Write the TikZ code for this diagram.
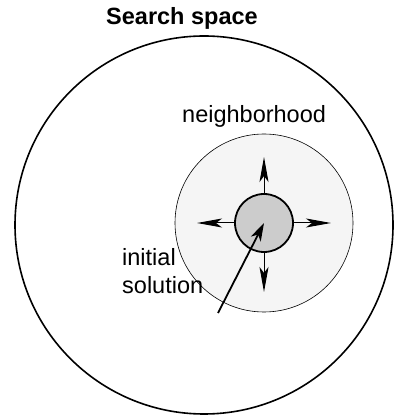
\documentclass[tikz,border=0pt]{standalone}
\usepackage{fontspec}
\setmainfont{Liberation Sans}
\usetikzlibrary{arrows.meta}
\begin{document}
\begin{tikzpicture}[x=1pt,y=1pt, every node/.style={font=\fontsize{23.5}{28.2}\selectfont},
  zone/.style={circle,draw,inner sep=0pt},
  move/.style={-{Stealth[length=25pt,width=9pt,inset=6pt]},line width=1pt}]
\useasboundingbox (0,0) rectangle (394,417);
\node[zone,line width=1.6pt,minimum size=378pt] (space) at (204,192) {};
\node[zone,line width=0.6pt,fill=black!4,minimum size=178pt] (hood) at (264,194) {};
\node[zone,line width=1.8pt,fill=black!20,minimum size=58pt] (init) at (264,194) {};
\node[font=\fontsize{23.5}{28.2}\selectfont\bfseries,anchor=base] (title) at (182,392) {Search space};
\node[anchor=base west,inner sep=0pt] (hoodlabel) at (182,294) {neighborhood};
\node[anchor=base west,inner sep=0pt,align=left] (initlabel) at (122,123) {initial\\solution};
\coordinate (up) at (264,260);
\coordinate (down) at (264,125);
\coordinate (left) at (197,194);
\coordinate (right) at (331,194);
\coordinate (tail) at (218,104);
\draw[move] (init.north) -- (up);
\draw[move] (init.south) -- (down);
\draw[move] (init.west) -- (left);
\draw[move] (init.east) -- (right);
\draw[-{Stealth[length=18pt,width=11pt,inset=5pt]},line width=1.8pt] (tail) -- (init.center);
\end{tikzpicture}
\end{document}
